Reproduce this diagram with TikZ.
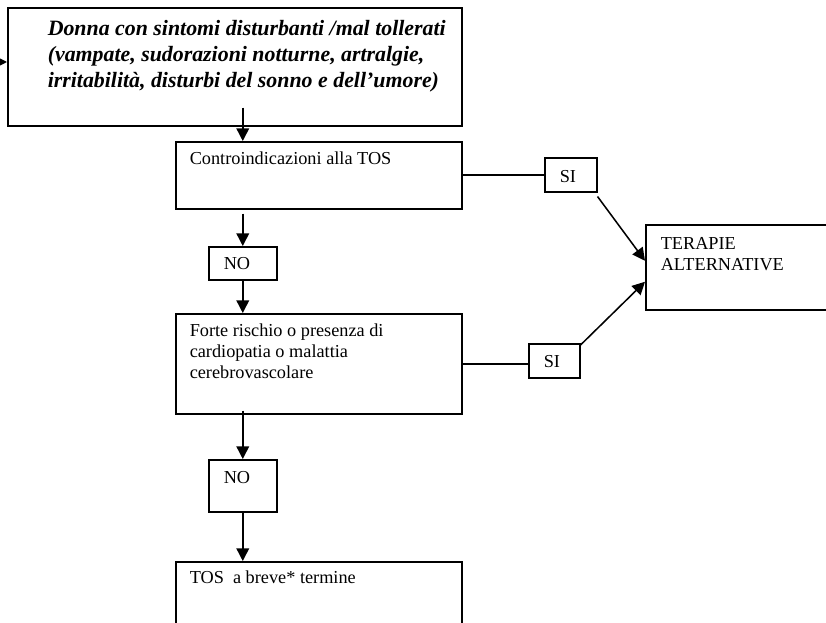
\documentclass[tikz,border=0pt]{standalone}
\usepackage{fontspec}
\setmainfont{Liberation Serif}
\usetikzlibrary{positioning,arrows.meta,calc}
\tikzset{%
  every box/.style={
    draw,
    anchor=north west,
    align=flush left,
    inner ysep=0pt,
    inner xsep=10.5pt,
    font=\fontsize{13.7pt}{15.75pt}\selectfont
  },
  answer box/.style={
    every box,
    inner xsep=11.25pt
  },
}
\newcommand{\rientro}{\hspace*{30pt}}

\begin{document}
\begin{tikzpicture}[>={Triangle[width=9.5pt,length=9.5pt]}, x=0.75pt, y=-0.75pt, line width=1.15pt]
\useasboundingbox (0,0) rectangle (826,623);
    \node[every box, inner xsep=0pt, text width=340.5pt, text height=21pt, text depth=67.5pt,
          font=\fontsize{16.4pt}{19.5pt}\selectfont\bfseries\itshape] (donna) at (7,7)
        {\rientro Donna con sintomi disturbanti /mal tollerati\\\rientro(vampate, sudorazioni notturne, artralgie,\\\rientro irritabilità, disturbi del sonno e dell’umore)};
    \node[every box, text width=193.5pt, text height=17.25pt, text depth=33pt] (controind) at (175,141) {Controindicazioni alla TOS};
    \node[answer box, text width=28.5pt, text height=17.25pt, text depth=7.5pt] (no_1) at (208,246) {NO};
    \node[every box, text width=193.5pt, text height=17.25pt, text depth=57.75pt] (rischio) at (175,313)
        {Forte rischio o presenza di\\cardiopatia o malattia\\cerebrovascolare};
    \node[answer box, text width=28.5pt, text height=18pt, text depth=21pt] (no_2) at (208,459) {NO};
    \node[every box, text width=193.5pt, text height=16.5pt, text depth=52.5pt] (tos) at (175,561) {TOS\ \ a breve* termine};
    \node[answer box, text width=16.5pt, text height=18.75pt, text depth=6.75pt] (si_1) at (544,157) {SI};
    \node[answer box, text width=15.75pt, text height=18pt, text depth=7.5pt] (si_2) at (528,343) {SI};
    \node[answer box, text width=120pt, text height=18.75pt, text depth=45pt] (alt) at (645,224) {TERAPIE\\ALTERNATIVE};

    \coordinate (ingresso) at (0,62);
    \draw[->] (ingresso) -- (ingresso -| donna.west);
    \draw[->] ($(no_1.north |- donna.south)+(0,-19)$) -- (no_1.north |- controind.north);
    \draw[->] ($(no_1.north |- controind.south)+(0,4)$) -- (no_1.north);
    \draw[->] (no_1.south) -- (no_1.south |- rischio.north);
    \draw[->] ($(no_2.north |- rischio.south)+(0,-4)$) -- (no_2.north);
    \draw[->] (no_2.south) -- (no_2.south |- tos.north);
    \draw (controind.east) -- (controind.east -| si_1.west);
    \draw (rischio.east) -- (rischio.east -| si_2.west);
    \draw[->] ($(si_1.south east)+(0,4)$) -- ($(alt.west)+(0,-6.5)$);
    \draw[->] ($(si_2.north east)+(0,2)$) -- ($(alt.west)+(0,14.5)$);
\end{tikzpicture}
\end{document}
